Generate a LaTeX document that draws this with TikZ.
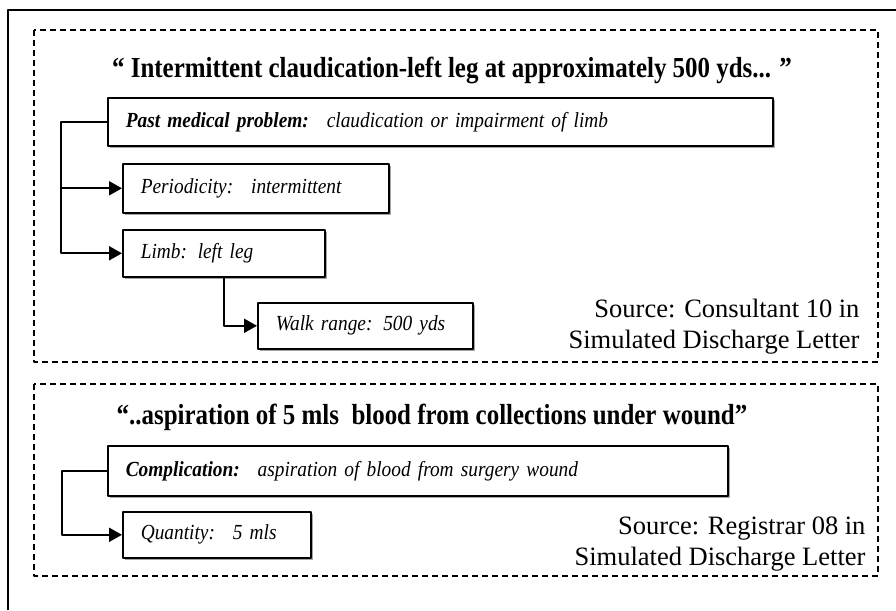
\documentclass[tikz,border=0pt]{standalone}
\usepackage{fontspec}
\setmainfont{Liberation Serif}
\newfontfamily\titlefont[FakeStretch=0.86]{Liberation Serif}
\newfontfamily\boxfont[FakeStretch=0.9]{Liberation Serif}
\usetikzlibrary{arrows.meta,shadows,positioning,calc}

\begin{document}
\begin{tikzpicture}[x=1pt,y=-1pt,line join=round,>={Triangle[length=13pt,width=14pt]},
	fact/.style={draw,line width=1.6pt,anchor=north west,inner xsep=18pt,align=left,fill=white,
		drop shadow={shadow xshift=2pt,shadow yshift=-2pt,fill=black!35,opacity=1},
		font=\boxfont\itshape\fontsize{21.5}{24}\selectfont},
	conn/.style={->,line width=2pt},
	frame/.style={line width=1.3pt,dash pattern=on 6pt off 4pt},
	quote/.style={font=\titlefont\bfseries\fontsize{29}{32}\selectfont},
	source/.style={anchor=east,align=right,font=\fontsize{26.5}{31}\selectfont}]
	\useasboundingbox (0,0) rectangle (896,610);
	\draw[line width=1.4pt] (8,610) -- (8,10) -- (896,10);
	% first example
	\draw[frame] (34,30) rectangle (878,362);
	\node[quote] (q1) at (452,70) {“ Intermittent claudication-left leg at approximately 500 yds... ”};
	\node[fact,text width=629pt,minimum height=48pt] (pmp) at (107,97) {\textbf{Past medical problem:}~ claudication or impairment of limb};
	\node[fact,text width=230pt,minimum height=49pt] (per) at (122,163) {Periodicity:~ intermittent};
	\node[fact,text width=166pt,minimum height=47pt] (limb) at (122,229) {Limb: left leg};
	\node[fact,text width=179pt,minimum height=46pt] (walk) at (257,302) {Walk range: 500 yds};
	\node[source] (src1) at (863,327) {Source: Consultant 10 in\\Simulated Discharge Letter};
	\coordinate (t1) at ($(pmp.west)+(-46,0)$);
	\draw[conn] (pmp.west) -- (t1) |- (per.west);
	\draw[conn] (t1) |- (limb.west);
	\draw[conn] (limb.south) |- (walk.west);
	% second example
	\draw[frame] (34,384) rectangle (878,576);
	\node[quote] (q2) at (432,417) {“..aspiration of 5 mls~ blood from collections under wound”};
	\node[fact,text width=584pt,minimum height=50pt] (comp) at (107,445) {\textbf{Complication:}~ aspiration of blood from surgery wound};
	\node[fact,text width=152pt,minimum height=46pt] (qty) at (122,511) {Quantity:~ 5 mls};
	\node[source] (src2) at (869,544) {Source: Registrar 08 in\\Simulated Discharge Letter};
	\coordinate (t2) at ($(comp.west)+(-45,0)$);
	\draw[conn] (comp.west) -- (t2) |- (qty.west);
\end{tikzpicture}
\end{document}
